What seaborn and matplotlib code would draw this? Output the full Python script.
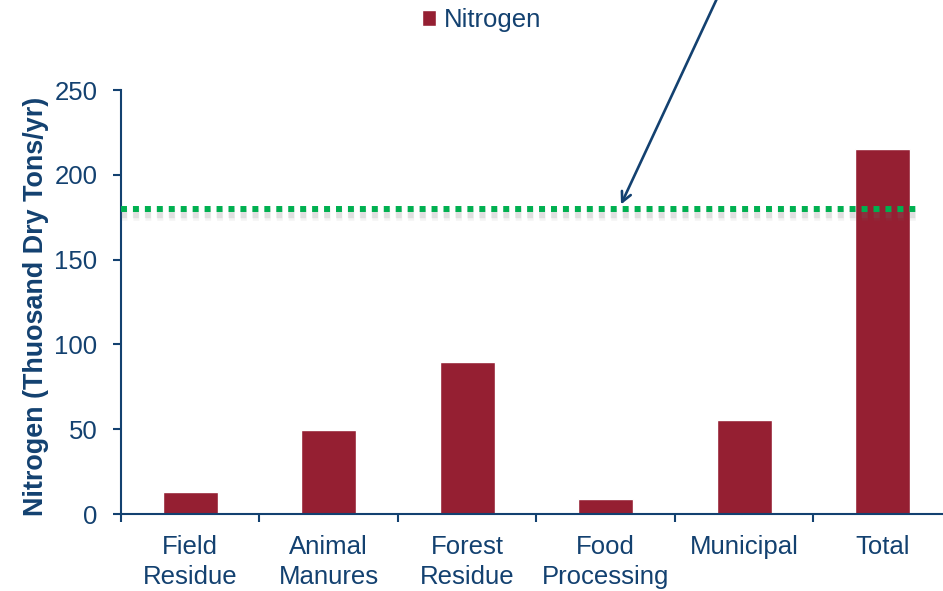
import matplotlib
matplotlib.use('Agg')
import matplotlib.pyplot as plt
import matplotlib.patheffects as pe
import pandas as pd
import seaborn as sns

# Nitrogen from biomass sources (thousand dry tons per year)
categories = ['Field\nResidue', 'Animal\nManures', 'Forest\nResidue',
              'Food\nProcessing', 'Municipal', 'Total']
nitrogen = [13, 49.5, 89.5, 9, 55.5, 215]
target_level = 180
y_ticks = [0, 50, 100, 150, 200, 250]

navy = '#134170'
bar_red = '#951F32'
green = '#00B050'

sns.set_style('white')
plt.rcParams['font.family'] = ['Liberation Sans', 'DejaVu Sans']

fig = plt.figure(figsize=(9.43, 5.91), dpi=100)
ax = fig.add_axes([121 / 943, 77 / 591, 831 / 943, 424 / 591])

df = pd.DataFrame({'category': categories, 'nitrogen': nitrogen})
sns.barplot(data=df, x='category', y='nitrogen', color=bar_red, width=0.4,
            saturation=1, label='Nitrogen', ax=ax, zorder=2)

ax.set_xlim(-0.5, len(categories) - 0.5)
ax.set_ylim(0, 250)
ax.set_yticks(y_ticks)

# reference level line with a soft drop shadow
shadow = [
    pe.SimpleLineShadow(offset=(0, -3.5), shadow_color='#707070', alpha=0.08, linewidth=9),
    pe.SimpleLineShadow(offset=(0, -3.5), shadow_color='#707070', alpha=0.15, linewidth=6),
    pe.Normal(),
]
ax.axhline(target_level, xmin=0, xmax=0.959, color=green, lw=4.3,
           linestyle=(0, (1, 1)), zorder=3, path_effects=shadow)

# pointer arrow coming in from above the chart
ax.annotate('', xy=(3.11, 182.5), xytext=(0.7625, 1.01), textcoords='figure fraction',
            arrowprops=dict(arrowstyle='->,head_length=0.7,head_width=0.35',
                            color=navy, lw=1.9, shrinkA=0, shrinkB=0),
            annotation_clip=False, zorder=4)

# axes styling
for side in ['top', 'right']:
    ax.spines[side].set_visible(False)
for side in ['left', 'bottom']:
    ax.spines[side].set_color(navy)
    ax.spines[side].set_linewidth(1.5)

ax.tick_params(axis='y', which='major', direction='out', length=6, width=1.5,
               color=navy, labelcolor=navy, labelsize=18.5, pad=11, left=True)
ax.set_xticks(range(len(categories)))
ax.set_xticklabels(categories, linespacing=1.35)
ax.set_xticks([i - 0.5 for i in range(len(categories) + 1)], minor=True)
ax.tick_params(axis='x', which='major', length=0, labelcolor=navy, labelsize=18.5, pad=15)
ax.tick_params(axis='x', which='minor', direction='out', length=6, width=1.5,
               color=navy, bottom=True)

ax.set_xlabel('')
ax.set_ylabel('Nitrogen (Thuosand Dry Tons/yr)', color=navy, fontsize=19.4,
              fontweight='bold')
ax.yaxis.set_label_coords(-72 / 831, 0.489)

ax.legend(loc='center', bbox_to_anchor=(0.511, 0.966), bbox_transform=fig.transFigure,
          frameon=False, handlelength=0.55, handleheight=0.55, handletextpad=0.3,
          fontsize=18.5, labelcolor=navy, borderpad=0)

fig.savefig('out.png', dpi=100)
